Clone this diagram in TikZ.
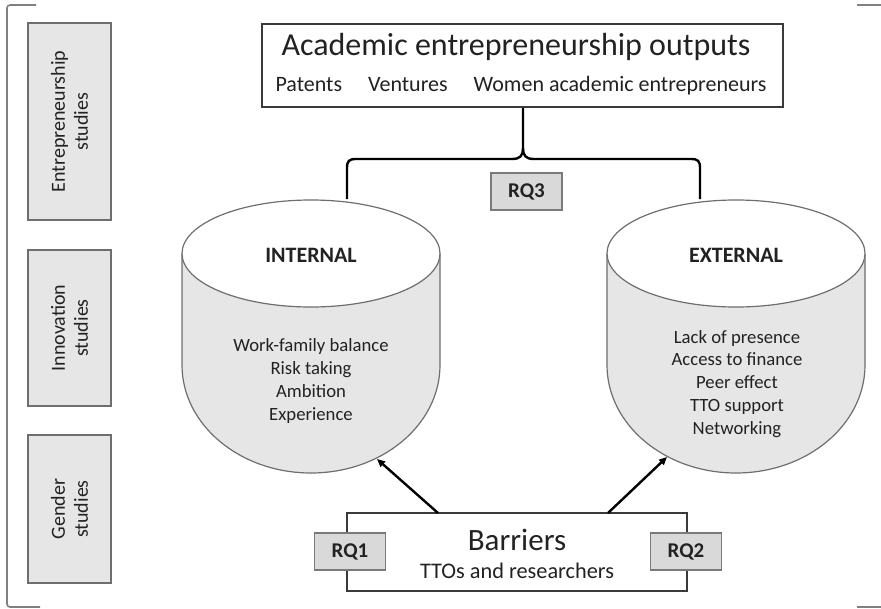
\documentclass[tikz,border=0pt]{standalone}
\usepackage{fontspec}
\setmainfont{Carlito}
\usetikzlibrary{arrows.meta}

\definecolor{txt}{HTML}{222222}
\definecolor{boxline}{HTML}{3A3A3A}
\definecolor{sideline}{HTML}{6E6E6E}
\definecolor{sidefill}{HTML}{E6E6E6}
\definecolor{rqline}{HTML}{7A7A7A}
\definecolor{rqfill}{HTML}{D9D9D9}
\definecolor{cylfill}{HTML}{E6E6E6}
\definecolor{cylline}{HTML}{6E6E6E}
\definecolor{frameline}{HTML}{808080}

\tikzset{
  conn/.style={line width=2.4pt, draw=black},
  arrowconn/.style={conn, -{Triangle[length=8pt,width=7pt]}},
  framebox/.style={draw=boxline, line width=1.6pt, fill=white, inner sep=0pt},
  sidebox/.style={draw=sideline, line width=1.4pt, fill=sidefill, inner sep=0pt, minimum width=83pt},
  sidetext/.style={rotate=90, align=center, text=txt, font=\fontsize{20}{23}\selectfont},
  rqbox/.style={draw=rqline, line width=1.2pt, fill=rqfill, inner sep=0pt,
    minimum width=71pt, minimum height=37pt, text=txt,
    font=\fontsize{21}{24}\selectfont\bfseries},
  cylbody/.style={fill=cylfill, draw=cylline, line width=1.2pt},
  cyltop/.style={fill=white, draw=cylline, line width=1.2pt},
  cylhead/.style={anchor=base, text=txt, font=\fontsize{22}{26}\selectfont\bfseries},
  listitem/.style={anchor=base, text=txt, inner sep=0pt, font=\fontsize{18.7}{22}\selectfont},
  outerframe/.style={draw=frameline, line width=1.6pt, rounded corners=3pt},
}

\begin{document}
\begin{tikzpicture}[x=1pt, y=-1pt]
\useasboundingbox (0,0) rectangle (881,608);

% outer bracket frame
\draw[outerframe] (36,5) -- (7,5) -- (7,607) -- (40,607);
\draw[outerframe] (857,5) -- (881,5);
\draw[outerframe] (857,607) -- (881,607);

% discipline boxes on the left
\node[sidebox, minimum height=197pt] (ent) at (69.5,121.5) {};
\node[sidetext] (entT) at (ent.center) {Entrepreneurship\\studies};
\node[sidebox, minimum height=156pt] (inn) at (69.5,328) {};
\node[sidetext] (innT) at (inn.center) {Innovation\\studies};
\node[sidebox, minimum height=148pt] (gen) at (69.5,509) {};
\node[sidetext] (genT) at (gen.center) {Gender\\studies};

% outputs box
\node[framebox, minimum width=521pt, minimum height=83pt] (top) at (522.5,65.5) {};
\node[anchor=base, text=txt, inner sep=0pt, font=\fontsize{32}{38}\selectfont] (title) at (516,55) {Academic entrepreneurship outputs};
\node[anchor=base, text=txt, inner sep=0pt, font=\fontsize{22}{26}\selectfont] (sub) at (521,91)
  {Patents\hspace{26pt}Ventures\hspace{26pt}Women academic entrepreneurs};

% internal cylinder
\path[cylbody] (182,253.5) -- (182,365) arc[start angle=180, end angle=360, x radius=129pt, y radius=108pt] -- (440,253.5);
\path[cyltop] (311,253.5) ellipse[x radius=129pt, y radius=53.5pt];
\node[cylhead] (intH) at (311,262) {INTERNAL};
\foreach \t [count=\i] in {Work-family balance, Risk taking, Ambition, Experience}
  \node[listitem] (int-\i) at (311,351+23.2*\i-23.2) {\t};

% external cylinder
\path[cylbody] (607,253.5) -- (607,365) arc[start angle=180, end angle=360, x radius=129pt, y radius=108pt] -- (865,253.5);
\path[cyltop] (736,253.5) ellipse[x radius=129pt, y radius=53.5pt];
\node[cylhead] (extH) at (736,262) {EXTERNAL};
\foreach \t [count=\i] in {Lack of presence, Access to finance, Peer effect, TTO support, Networking}
  \node[listitem] (ext-\i) at (737,343+22.8*\i-22.8) {\t};

% brace from the outputs box to both cylinders
\coordinate (braceTop) at (top.south -| 523,0);
\coordinate (braceL) at (347,199);
\coordinate (braceR) at (700,199);
\draw[conn] (braceL) -- (347,168) .. controls (347,161) and (349,159) .. (356,159)
  -- (512,159) .. controls (520,159) and (523,156) .. (523,148) -- (braceTop);
\draw[conn] (braceR) -- (700,168) .. controls (700,161) and (698,159) .. (691,159)
  -- (534,159) .. controls (526,159) and (523,156) .. (523,148);
\node[rqbox] (rq3) at (526.5,191.5) {RQ3};

% barriers box
\node[framebox, minimum width=340pt, minimum height=78pt] (barr) at (517,552) {};
\node[anchor=base, text=txt, inner sep=0pt, font=\fontsize{31}{36}\selectfont] (barrT) at (517,550) {Barriers};
\node[anchor=base, text=txt, inner sep=0pt, font=\fontsize{22.3}{26}\selectfont] (barrS) at (517,578) {TTOs and researchers};
\node[rqbox] (rq1) at (350,551.5) {RQ1};
\node[rqbox] (rq2) at (686,551.5) {RQ2};

% arrows from barriers to the cylinders
\coordinate (bL) at (438,513);
\coordinate (bR) at (608,513);
\coordinate (intTip) at (377,459);
\coordinate (extTip) at (667,457);
\draw[arrowconn] (bL) -- (intTip);
\draw[arrowconn] (bR) -- (extTip);
\end{tikzpicture}
\end{document}
